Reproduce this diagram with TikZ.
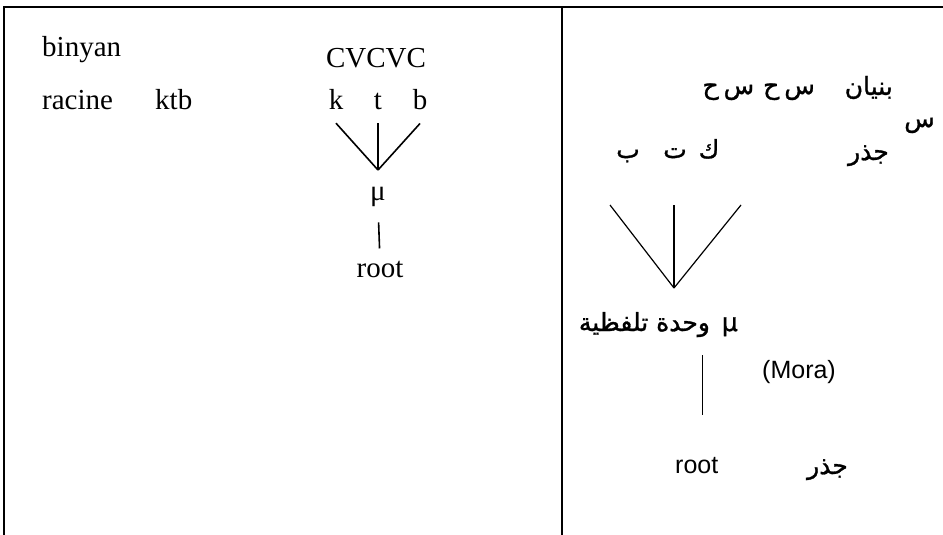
\documentclass[tikz,border=0pt]{standalone}
\usepackage{fontspec}
\setmainfont{Liberation Serif}
\newfontfamily\latsans{Liberation Sans}
\newfontfamily\arabicfont[Script=Arabic,FakeBold=1.2]{DejaVu Sans}
\TeXXeTstate=1
% a consonant/vowel pair of isolated letters with a little air between them
\newcommand{\cvpair}{\mbox{ح}\hspace{5pt}\mbox{س}}
\begin{document}
\begin{tikzpicture}[x=1pt,y=-1pt,
  rule/.style={line width=1.4pt},
  tree/.style={line width=1.6pt},
  thin tree/.style={line width=1.2pt},
  serif/.style={font=\fontsize{29}{31}\selectfont, inner sep=0pt, anchor=base},
  sans/.style={font=\latsans\fontsize{25}{28}\selectfont, inner sep=0pt, anchor=base},
  arab/.style={font=\arabicfont\fontsize{25}{29}\selectfont, inner sep=0pt, anchor=base}]
\useasboundingbox (0,0) rectangle (943,535);

% frame: top rule, outer left rule and the column divider
\draw[rule] (3,7) -- (943,7);
\draw[rule] (4,7) -- (4,535);
\draw[rule] (562,7) -- (562,535);

% left column
\node[serif, anchor=base west] (binyan) at (42,57) {binyan};
\node[serif, anchor=base west] (racine) at (42,110) {racine};
\node[serif, anchor=base west] (ktb) at (155,110) {ktb};
\node[serif] (cvcvc) at (376,68) {CVCVC};
\node[serif] (k) at (336,110) {k};
\node[serif] (t) at (378,110) {t};
\node[serif] (b) at (420,110) {b};
\coordinate (jl) at (378,170);
\node[serif] (mu) at (378,200) {μ};
\node[serif] (root) at (380,277) {root};
\draw[tree] ([yshift=-13pt]k.south) -- (jl);
\draw[tree] ([yshift=-13pt]t.south) -- (jl);
\draw[tree] ([yshift=-13pt]b.south) -- (jl);
\draw[tree, shorten <=16pt, shorten >=12pt] (mu.south) -- (root.north);

% right column
\node[arab, anchor=base east] (binyanAr) at (893,95) {\beginR بنيان\endR};
\node[arab, anchor=base east] (cvAr) at (815,94) {\cvpair\hspace{9pt}\cvpair};
\node[arab, anchor=base east] (sinAr) at (935,127) {\beginR س\endR};
\node[arab, anchor=base east] (jidhrA) at (889,160) {\beginR جذر\endR};
\node[arab] (kaf) at (709,158) {ك};
\node[arab] (ta) at (675,158) {ت};
\node[arab] (ba) at (628,158) {ب};
\coordinate (jr) at (674,288);
\draw[thin tree] ([xshift=-18pt,yshift=-47pt]ba.base) -- (jr);
\draw[thin tree] ([xshift=-1pt,yshift=-47pt]ta.base) -- (jr);
\draw[thin tree] ([xshift=32pt,yshift=-47pt]kaf.base) -- (jr);
\node[arab, anchor=base east] (mora) at (738,331) {\beginR μ\hspace{4pt} وحدة تلفظية\endR};
\node[sans, anchor=base west] (moraLat) at (762,378) {(Mora)};
\node[sans, anchor=base west] (rootR) at (675,473) {root};
\node[arab, anchor=base east] (jidhrB) at (848,474) {\beginR جذر\endR};
\path ([xshift=6pt]rootR.north) coordinate (rt);
\draw[thin tree, shorten <=24pt, shorten >=42pt] (mora.base -| rt) -- (rt);
\end{tikzpicture}
\end{document}
